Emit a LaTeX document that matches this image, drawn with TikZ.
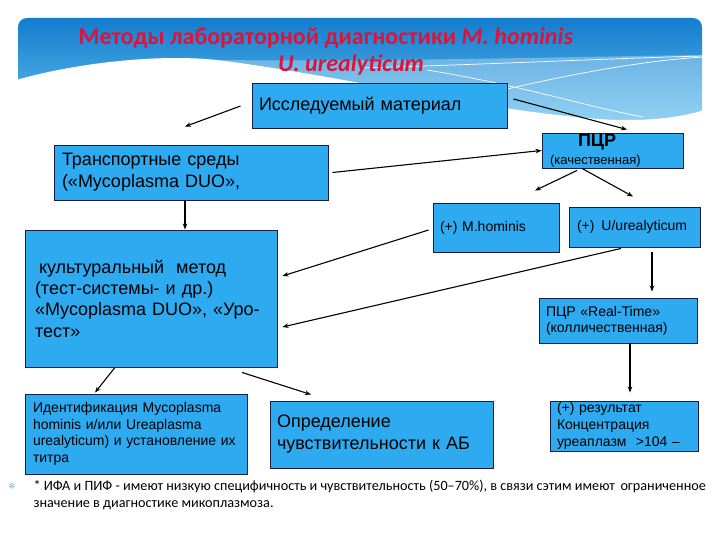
\documentclass[tikz,border=0pt]{standalone}
\usepackage{fontspec}
\setmainfont{Liberation Sans}
\newfontfamily\titlefont{Carlito}
\newfontfamily\symfont{DejaVu Sans}
\usetikzlibrary{arrows.meta}
\definecolor{boxblue}{RGB}{45,170,240}
\definecolor{boxline}{RGB}{20,30,70}
\definecolor{titlered}{RGB}{220,20,60}
\definecolor{banddark}{RGB}{20,125,205}
\definecolor{bandlight}{RGB}{110,200,245}
\definecolor{bulletblue}{RGB}{120,190,230}
\tikzset{
  blbox/.style={draw=boxline,fill=boxblue,line width=0.9pt,inner ysep=0pt,align=left,text=black},
  bigtxt/.style={font=\fontsize{18}{22}\selectfont},
  smalltxt/.style={font=\fontsize{14}{17}\selectfont},
  arr/.style={-{Stealth[length=6pt,width=4.5pt]},line width=1.1pt},
}
\begin{document}
\begin{tikzpicture}[x=1pt,y=-1pt]
  \useasboundingbox (0,0) rectangle (720,540);
  \fill[white] (0,0) rectangle (720,540);
  % шапка слайда
  \shade[top color=banddark,bottom color=bandlight,rounded corners=9pt] (18,18) rectangle (702,140);
  \fill[white,opacity=0.3] (217,60) .. controls (400,62) and (600,56) .. (704,55) -- (704,110)
    .. controls (680,118) and (640,122) .. (600,119) .. controls (470,109) and (340,75) .. (217,60) -- cycle;
  \fill[white] (16,80) .. controls (80,62) and (160,54) .. (217,60)
    .. controls (340,75) and (470,109) .. (600,119) .. controls (640,122) and (680,118) .. (704,110)
    -- (704,145) -- (16,145) -- cycle;
  \draw[white,line width=0.7pt] (360,68) .. controls (500,64) and (620,58) .. (704,56);
  \draw[white,line width=0.7pt] (427,70) .. controls (520,85) and (580,105) .. (643,117);
  \draw[white,line width=0.7pt] (503,90) .. controls (580,72) and (650,60) .. (704,57);
  % заголовок
  \node[anchor=base west,text=titlered,font=\titlefont\bfseries\fontsize{24}{28}\selectfont] (title1) at (75,45)
    {Методы лабораторной диагностики \textit{M. hominis}};
  \node[anchor=base,text=titlered,font=\titlefont\bfseries\fontsize{24}{28}\selectfont] (title2) at (351,72)
    {\textit{U. urealyticum}};
  % блоки
  \node[blbox,bigtxt,inner xsep=7pt,text width=241pt,minimum height=45pt] (mat) at (379.5,105.5)
    {Исследуемый материал};
  \node[blbox,inner xsep=8pt,text width=125pt,minimum height=35pt,font=\fontsize{13}{18}\selectfont] (pcr) at (612.5,150.5)
    {\hspace*{28pt}{\fontsize{18}{18}\selectfont\bfseries ПЦР}\\(качественная)};
  \node[blbox,bigtxt,inner xsep=8pt,text width=258pt,minimum height=55pt] (trans) at (191,172.5)
    {Транспортные среды\\(«Mycoplasma DUO»,};
  \node[blbox,smalltxt,inner xsep=7pt,text width=112pt,minimum height=49pt] (mh) at (496,227.5)
    {(+) M.hominis};
  \node[blbox,smalltxt,inner xsep=8pt,text width=115pt,minimum height=40pt] (uu) at (634.5,227)
    {(+)\, U/urealyticum};
  \node[blbox,bigtxt,inner xsep=10pt,text width=232pt,minimum height=137pt,font=\fontsize{18}{21.3}\selectfont] (cult) at (151,298.5)
    {\hspace*{4pt}культуральный\hspace{12pt}метод\\(тест-системы- и др.)\\«Mycoplasma DUO», «Уро-\\тест»};
  \node[blbox,smalltxt,inner xsep=7pt,text width=144pt,minimum height=45pt,font=\fontsize{14}{16}\selectfont] (rt) at (618,320.5)
    {ПЦР «Real-Time»\\(колличественная)};
  \node[blbox,smalltxt,inner xsep=8pt,text width=206pt,minimum height=80pt,font=\fontsize{14}{16.7}\selectfont] (id) at (136,434)
    {Идентификация Mycoplasma\\hominis и/или Ureaplasma\\urealyticum) и установление их\\титра};
  \node[blbox,bigtxt,inner xsep=7pt,text width=209pt,minimum height=67pt] (sens) at (381.5,434.5)
    {Определение\\чувствительности к АБ};
  \node[blbox,smalltxt,inner xsep=7pt,text width=134pt,minimum height=50pt] (res) at (624,426)
    {(+) результат\\Концентрация\\уреаплазм\,\, >104 –};
  % стрелки
  \draw[arr] ([shift={(-11,0.5)}]mat.west) -- ([shift={(-6,-18)}]trans.north);
  \draw[arr] ([shift={(6,-6.5)}]mat.east) -- ([shift={(14.5,-3)}]pcr.north);
  \draw[arr] ([xshift=4pt]trans.east) -- (pcr.west);
  \draw[arr] ([xshift=-6pt]trans.south) -- ([xshift=34pt]cult.north);
  \draw[arr] ([shift={(-35.5,2)}]pcr.south) -- ([shift={(39,-12)}]mh.north);
  \draw[arr] ([shift={(-30.5,0)}]pcr.south) -- ([shift={(-1.5,-10)}]uu.north);
  \draw[arr] ([shift={(-4,2.5)}]mh.west) -- ([shift={(5,-22.5)}]cult.east);
  \draw[arr] ([shift={(-13.5,1)}]uu.south) -- ([shift={(5,28.5)}]cult.east);
  \draw[arr] ([shift={(17.5,5)}]uu.south) -- ([shift={(34,-6)}]rt.north);
  \draw[arr] ([xshift=12pt]rt.south) -- ([shift={(6,-8)}]res.north);
  \draw[arr] ([xshift=-36pt]cult.south) -- ([shift={(-41,-1)}]id.north);
  \draw[arr] ([shift={(91,5)}]cult.south) -- ([shift={(-70.5,-6)}]sens.north);
  % примечание
  \node[anchor=base,text=bulletblue,font=\symfont\fontsize{9}{10}\selectfont] (bul) at (12,489) {❄};
  \node[anchor=base west,font=\titlefont\fontsize{14.2}{16}\selectfont] (note1) at (30,490)
    {* ИФА и ПИФ - имеют низкую специфичность и чувствительность (50–70\%), в связи сэтим имеют\, ограниченное};
  \node[anchor=base west,font=\titlefont\fontsize{14.2}{16}\selectfont] (note2) at (30,507)
    {значение в диагностике микоплазмоза.};
\end{tikzpicture}
\end{document}
